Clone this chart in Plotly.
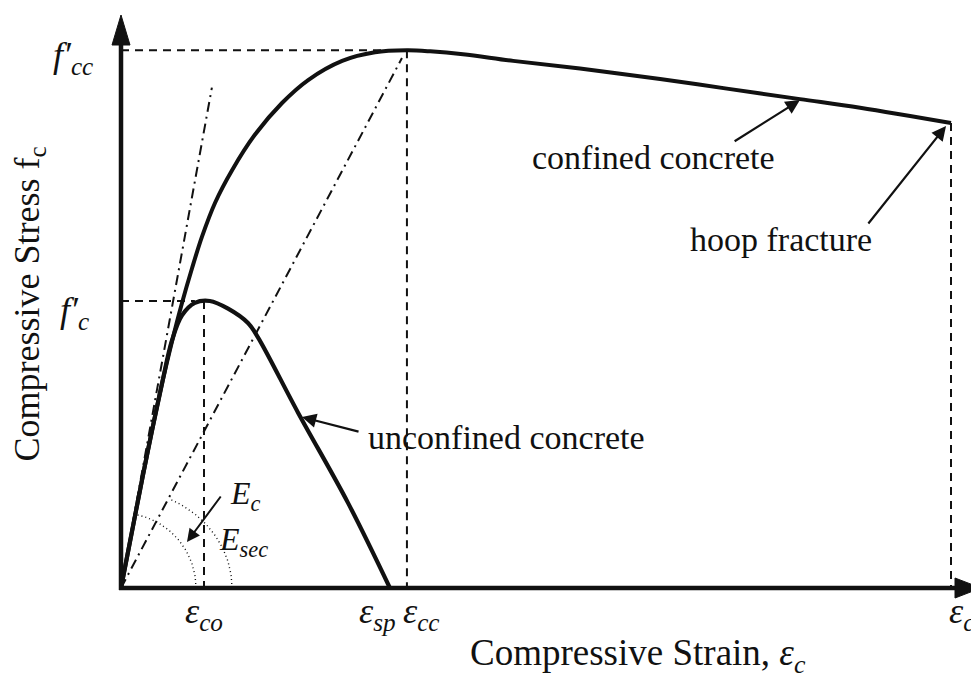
import numpy as np
import plotly.graph_objects as go

# ---------------- data (strain in per mille, stress in MPa) ----------------
conf_strain = [0, 0.34, 0.65, 0.99, 1.23, 1.47, 1.71, 1.95, 2.27, 2.68, 3.23, 3.88,
               4.51, 5.33, 6.12, 6.89, 7.45, 8.24, 9.45, 11.06, 12.99, 14.60,
               16.36, 17.81, 20.0]
conf_stress = [0, 7.6, 14.4, 21.4, 25.8, 29.8, 33.4, 36.7, 40.3, 43.7, 47.4, 50.7,
               53.1, 55.1, 56.0, 56.2, 56.1, 55.8, 55.1, 54.3, 53.2, 52.2,
               51.1, 50.2, 48.6]

unconf_strain = [0, 0.34, 0.65, 0.99, 1.23, 1.47, 1.78, 2.14, 2.58, 3.06, 3.30,
                 4.27, 5.47, 6.48]
unconf_stress = [0, 7.6, 14.4, 21.4, 25.9, 28.5, 29.8, 30.0, 29.2, 27.7, 26.2,
                 18.3, 8.9, 0]

eps_co, eps_sp, eps_cc, eps_cu = 2.0, 6.48, 6.89, 20.0
f_c, f_cc, f_cu = 30.0, 56.2, 48.6
tangent_strain = [0, 2.19]
tangent_stress = [0, 52.3]
secant_strain = [0, 6.77]
secant_stress = [0, 55.4]
fc_dash_end = 1.78

# ---------------- geometry helpers (pixel -> data scale) ----------------
SX = 2.0 / 83.0     # per mille per pixel
SY = 30.0 / 287.0   # MPa per pixel
# page body has an 8px margin; the figure is sized to fit the window
X_RANGE = [-113 * SX, 858 * SX]
Y_RANGE = [-85 * SY, 580 * SY]

FONT = "Liberation Serif"
INK = "#111111"

fig = go.Figure()

def add_line(xs, ys, width=2, dash="solid", shape="linear", color=INK):
    fig.add_trace(go.Scatter(x=xs, y=ys, mode="lines", hoverinfo="skip",
                             line=dict(color=color, width=width, dash=dash, shape=shape),
                             showlegend=False))

DASH = "8px,6px"
DASHDOT = "10px,5px,2px,5px"

# reference dashed lines
add_line([0, eps_cc], [f_cc, f_cc], 2, DASH)
add_line([eps_cc, eps_cc], [f_cc, 0], 2, DASH)
add_line([0, fc_dash_end], [f_c, f_c], 2, DASH)
add_line([eps_co, eps_co], [f_c, 0], 2, DASH)
add_line([eps_cu, eps_cu], [f_cu, 0], 2, DASH)

# modulus lines
add_line(tangent_strain, tangent_stress, 2, DASHDOT)
add_line(secant_strain, secant_stress, 2, DASHDOT)

# angle arcs (dotted)
t1 = np.radians(np.linspace(0, 80, 40))
add_line(75 * np.cos(t1) * SX, 75 * np.sin(t1) * SY, 1.4, "1px,3px")
t2 = np.radians(np.linspace(0, 64, 40))
add_line(111 * np.cos(t2) * SX, 99 * np.sin(t2) * SY, 1.4, "1px,3px")

# curves
add_line(unconf_strain, unconf_stress, 4.2, "solid", "spline")
add_line(conf_strain, conf_stress, 4.0, "solid", "spline")

# ---------------- axes with arrow heads ----------------
y_tip = 573 * SY
x_tip = 860 * SX
fig.add_shape(type="line", x0=0, y0=-2 * SY, x1=0, y1=y_tip - 25 * SY,
              line=dict(color=INK, width=4.5), layer="above")
fig.add_shape(type="line", x0=-2 * SX, y0=0, x1=x_tip - 20 * SX, y1=0,
              line=dict(color=INK, width=4.5), layer="above")
fig.add_shape(type="path",
              path=f"M {-9*SX} {y_tip-30*SY} L 0 {y_tip} L {9*SX} {y_tip-30*SY} Z",
              fillcolor=INK, line=dict(color=INK, width=1), layer="above")
fig.add_shape(type="path",
              path=f"M {x_tip-26*SX} {-10*SY} L {x_tip} 0 L {x_tip-26*SX} {10*SY} Z",
              fillcolor=INK, line=dict(color=INK, width=1), layer="above")

# ---------------- annotations ----------------
def text(x, y, s, size=34, xanchor="center", yanchor="middle", angle=0, yshift=0):
    fig.add_annotation(x=x, y=y, xref="x", yref="y", text=s, showarrow=False,
                       font=dict(family=FONT, size=size, color=INK),
                       xanchor=xanchor, yanchor=yanchor, textangle=angle, yshift=yshift)

def arrow(x0, y0, x1, y1, width=2.2, size=1.3):
    fig.add_annotation(x=x1, y=y1, ax=x0, ay=y0, xref="x", yref="y", axref="x", ayref="y",
                       text="", showarrow=True, arrowhead=2, arrowsize=size,
                       arrowwidth=width, arrowcolor=INK, standoff=0)

text(-0.62, f_cc, "<i>f′</i><sub><i>cc</i></sub>", 36, xanchor="right", yshift=-7)
text(-0.72, f_c, "<i>f′</i><sub><i>c</i></sub>", 36, xanchor="right", yshift=-11)
text(eps_co, -2.7, "<i>ε</i><sub><i>co</i></sub>", 36)
text(eps_sp + 0.2, -2.7, "<i>ε</i><sub><i>sp</i></sub>", 36, xanchor="right")
text(eps_cc - 0.15, -2.7, "<i>ε</i><sub><i>cc</i></sub>", 36, xanchor="left")
text(eps_cu - 0.1, -2.7, "<i>ε</i><sub><i>cu</i></sub>", 36, xanchor="left")

text(12.84, 44.95, "confined concrete", 34)
text(15.90, 36.38, "hoop fracture", 34)
text(9.30, 15.78, "unconfined concrete", 34)
text(2.99, 9.7, "<i>E</i><sub><i>c</i></sub>", 32)
text(2.96, 4.9, "<i>E</i><sub><i>sec</i></sub>", 32)

text(12.46, -7.1, "Compressive Strain, <i>ε</i><sub><i>c</i></sub>", 37)
text(-2.2, 29.7, "Compressive Stress f<sub>c</sub>", 36, angle=-90)

arrow(14.75, 46.6, 16.36, 51.0)
arrow(17.98, 37.94, 19.88, 48.29)
arrow(5.76, 16.31, 4.36, 17.87)
arrow(2.43, 9.72, 1.59, 4.81, width=2.0)

fig.update_layout(width=971, height=665, margin=dict(l=0, r=0, t=0, b=0),
                  paper_bgcolor="white", plot_bgcolor="white", showlegend=False,
                  xaxis=dict(range=X_RANGE, visible=False, fixedrange=True),
                  yaxis=dict(range=Y_RANGE, visible=False, fixedrange=True))

fig.write_html("out.html")
